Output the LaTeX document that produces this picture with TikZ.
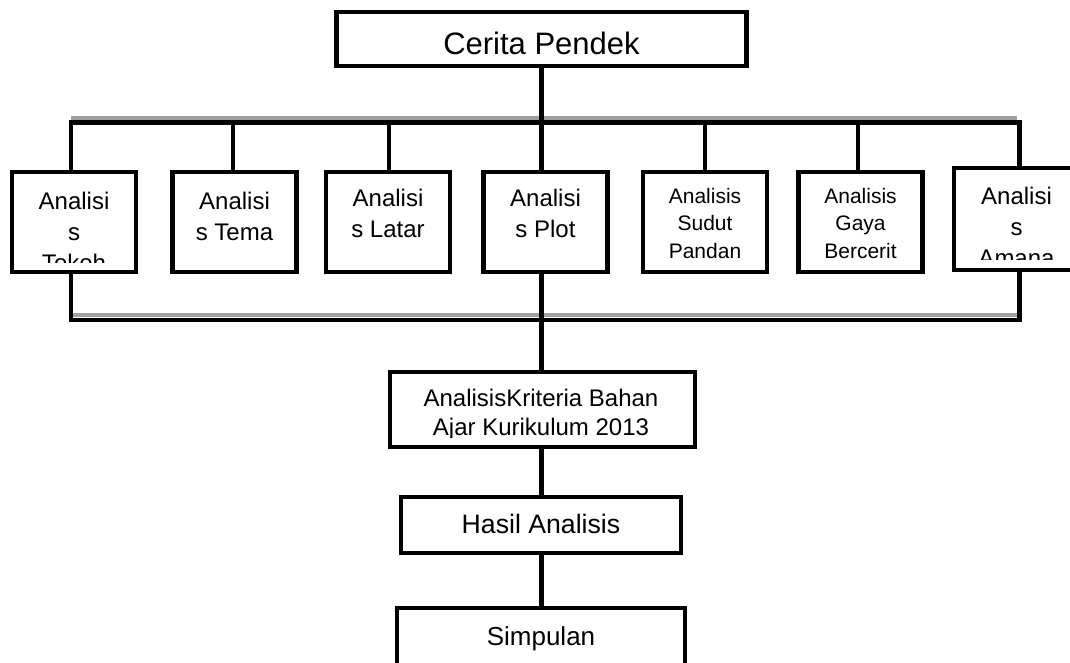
\documentclass[tikz,border=0pt]{standalone}
\usepackage{fontspec}
\setmainfont{Liberation Sans}
\usepackage{tikz}
\definecolor{lgrey}{RGB}{160,160,160}

\begin{document}
\begin{tikzpicture}[x=0.75pt,y=-0.75pt,-,line width=3.4pt,line join=miter]
  \tikzstyle{box}=[draw=black,line width=3.4pt,inner sep=0pt,minimum width=93pt,minimum height=75pt]
  \tikzstyle{txt}=[inner sep=0pt,anchor=base,align=center,font=\fontsize{18}{23.25}\selectfont]
  \tikzstyle{toptxt}=[txt,anchor=north]
  \tikzstyle{smalltxt}=[toptxt,font=\fontsize{15.75}{20.6}\selectfont]
  \tikzstyle{shadow}=[draw=lgrey,line width=3pt]
  \useasboundingbox (0,0) rectangle (1070,663);

  % boxes
  \node [box,minimum width=307.5pt,minimum height=40.5pt] (cerita) at (541.5,39) {};
  \node [box] (tokoh) at (74,222) {};
  \node [box] (tema) at (234.5,222) {};
  \node [box] (latar) at (388,222) {};
  \node [box] (plot) at (545.5,222) {};
  \node [box] (sudut) at (705,222) {};
  \node [box] (gaya) at (860.5,222) {};
  \node [box,minimum width=93.75pt,minimum height=76.5pt] (amanat) at (1016.5,219) {};
  \node [box,minimum width=228.75pt,minimum height=56.25pt] (kriteria) at (542.5,409.5) {};
  \node [box,minimum width=210pt,minimum height=42pt] (hasil) at (541,525) {};
  \node [box,minimum width=216pt,minimum height=54pt] (simpulan) at (541,644) {};

  % texts
  \node [txt,font=\fontsize{23.25}{28}\selectfont] (ceritatxt) at (541.5,55) {Cerita Pendek};
  \begin{scope}
    \clip (tokoh.north west) rectangle ([yshift=9pt]tokoh.south east);
    \node [toptxt] (tokohtxt) at (74,189.8) {Analisi\\s\\Tokoh};
  \end{scope}
  \node [toptxt] (tematxt) at (234.5,189.8) {Analisi\\s Tema};
  \node [toptxt] (latartxt) at (388,186.8) {Analisi\\s Latar};
  \node [toptxt] (plottxt) at (545.5,186.8) {Analisi\\s Plot};
  \node [smalltxt] (sudtxt) at (705,186) {Analisis\\Sudut\\Pandan};
  \node [smalltxt] (gayatxt) at (860.5,186) {Analisis\\Gaya\\Bercerit};
  \begin{scope}
    \clip (amanat.north west) rectangle ([yshift=9.75pt]amanat.south east);
    \node [toptxt] (amanattxt) at (1016.5,184.8) {Analisi\\s\\Amana};
  \end{scope}
  \begin{scope}
    \clip (kriteria.north west) rectangle ([yshift=9pt]kriteria.south east);
    \node [toptxt,font=\fontsize{18}{21.75}\selectfont] (kriteriatxt) at (541,386.8) {AnalisisKriteria Bahan\\Ajar Kurikulum 2013};
  \end{scope}
  \node [txt,font=\fontsize{20}{24}\selectfont] (hasiltxt) at (541,533) {Hasil Analisis};
  \node [txt,font=\fontsize{19.5}{24}\selectfont] (simpulantxt) at (541,645) {Simpulan};

  % upper bus
  \coordinate (toptokoh) at (71,122.5);
  \coordinate (topamanat) at (1019.5,122.5);
  \draw [shadow] (71,118) -- (1017,118);
  \draw (cerita.south) -- (cerita.south |- toptokoh);
  \draw (toptokoh |- tokoh.north) -- (toptokoh) -- (topamanat) -- (topamanat |- amanat.north);
  \foreach \n/\x in {tema/233,latar/389,plot/541.5,sudut/705,gaya/858}
  {
    \coordinate (top\n) at (\x,122.5);
    \draw (top\n) -- (top\n |- \n.north);
  }

  % lower bus
  \coordinate (bottokoh) at (71,320);
  \coordinate (botplot) at (541.5,320);
  \coordinate (botamanat) at (1019.5,320);
  \draw [shadow] (71,315) -- (1017,315);
  \draw (bottokoh |- tokoh.south) -- (bottokoh) -- (botamanat) -- (botamanat |- amanat.south);
  \draw (botplot |- plot.south) -- (botplot |- kriteria.north);

  % lower chain
  \draw (kriteria.south -| botplot) -- (hasil.north -| botplot);
  \draw (hasil.south -| botplot) -- (simpulan.north -| botplot);
\end{tikzpicture}
\end{document}
